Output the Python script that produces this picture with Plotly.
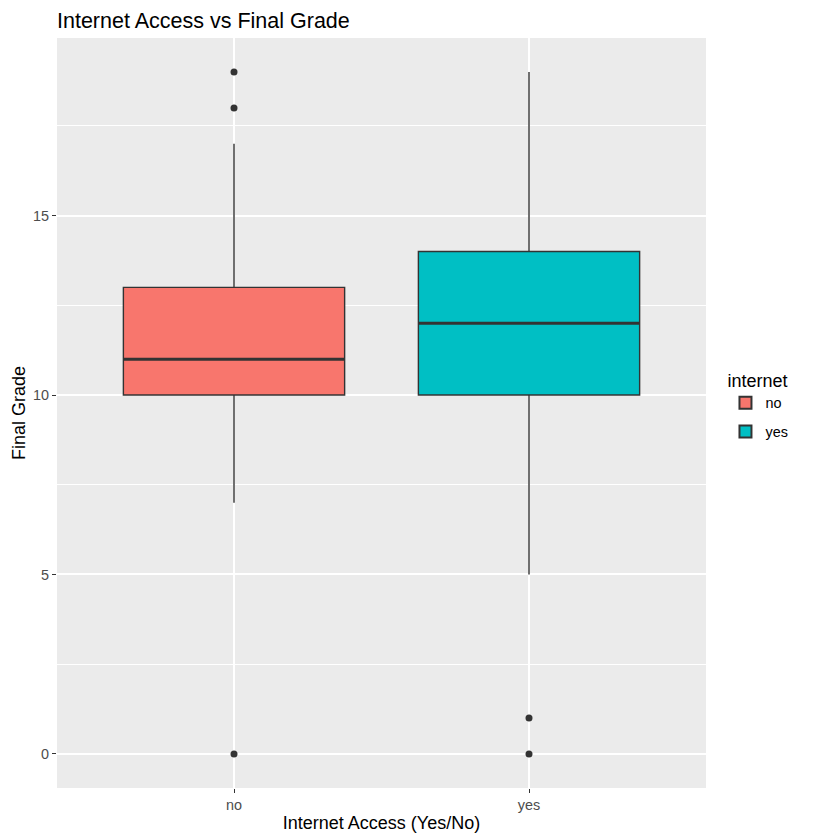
import plotly.graph_objects as go

categories = ["no", "yes"]
q1 = [10, 10]
median = [11, 12]
q3 = [13, 14]
lower = [7, 5]
upper = [17, 19]
outliers = [[0, 18, 19], [0, 1]]
colors = ["#F8766D", "#00BFC4"]

BOX_W = 0.75
fig = go.Figure()
for i, cat in enumerate(categories):
    fig.add_trace(go.Box(
        x=[i], q1=[q1[i]], median=[median[i]], q3=[q3[i]],
        lowerfence=[lower[i]], upperfence=[upper[i]],
        name=cat, fillcolor=colors[i],
        line=dict(color="#333333", width=1.4),
        width=BOX_W, whiskerwidth=0, boxpoints=False,
        legendgroup=cat, showlegend=True,
    ))
    # thicker median line (ggplot fatten)
    fig.add_trace(go.Scatter(
        x=[i - BOX_W / 2, i + BOX_W / 2], y=[median[i], median[i]],
        mode="lines", line=dict(color="#333333", width=3),
        showlegend=False, hoverinfo="skip", legendgroup=cat,
    ))
    fig.add_trace(go.Scatter(
        x=[i] * len(outliers[i]), y=outliers[i], mode="markers",
        marker=dict(color="#333333", size=7),
        showlegend=False, legendgroup=cat,
    ))

# page body adds an 8px offset; margins compensate
fig.update_layout(
    width=840, height=840,
    margin=dict(l=49, r=142, t=30, b=60),
    paper_bgcolor="white", plot_bgcolor="#EBEBEB",
    font=dict(family="Liberation Sans, Arial, sans-serif", color="black"),
    title=dict(text="Internet Access vs Final Grade", x=49/840, xanchor="left",
               y=1 - 12/840, yanchor="middle", yref="container",
               font=dict(size=21.5, color="black")),
    legend=dict(title=dict(text="internet", font=dict(size=18)),
                x=1.03, xanchor="left", y=0.51, yanchor="middle",
                font=dict(size=14.4), bgcolor="white", tracegroupgap=7,
                itemsizing="constant"),
    showlegend=True,
)
fig.update_xaxes(
    range=[-0.6, 1.6], tickvals=[0, 1], ticktext=categories,
    showgrid=True, gridcolor="white", gridwidth=1.8, zeroline=False,
    ticks="outside", ticklen=4, tickcolor="#333333", tickwidth=1.2,
    tickfont=dict(size=14.4, color="#4D4D4D"),
    title=dict(text="Internet Access (Yes/No)", font=dict(size=18), standoff=4),
)
fig.update_yaxes(
    range=[-0.95, 19.95], tickvals=[0, 5, 10, 15],
    showgrid=True, gridcolor="white", gridwidth=1.8, zeroline=False,
    minor=dict(tickvals=[2.5, 7.5, 12.5, 17.5], showgrid=True,
               gridcolor="white", gridwidth=0.9, ticks=""),
    ticks="outside", ticklen=4, tickcolor="#333333", tickwidth=1.2,
    tickfont=dict(size=14.4, color="#4D4D4D"),
    title=dict(text="Final Grade", font=dict(size=18), standoff=2),
)
fig.write_html("out.html")
